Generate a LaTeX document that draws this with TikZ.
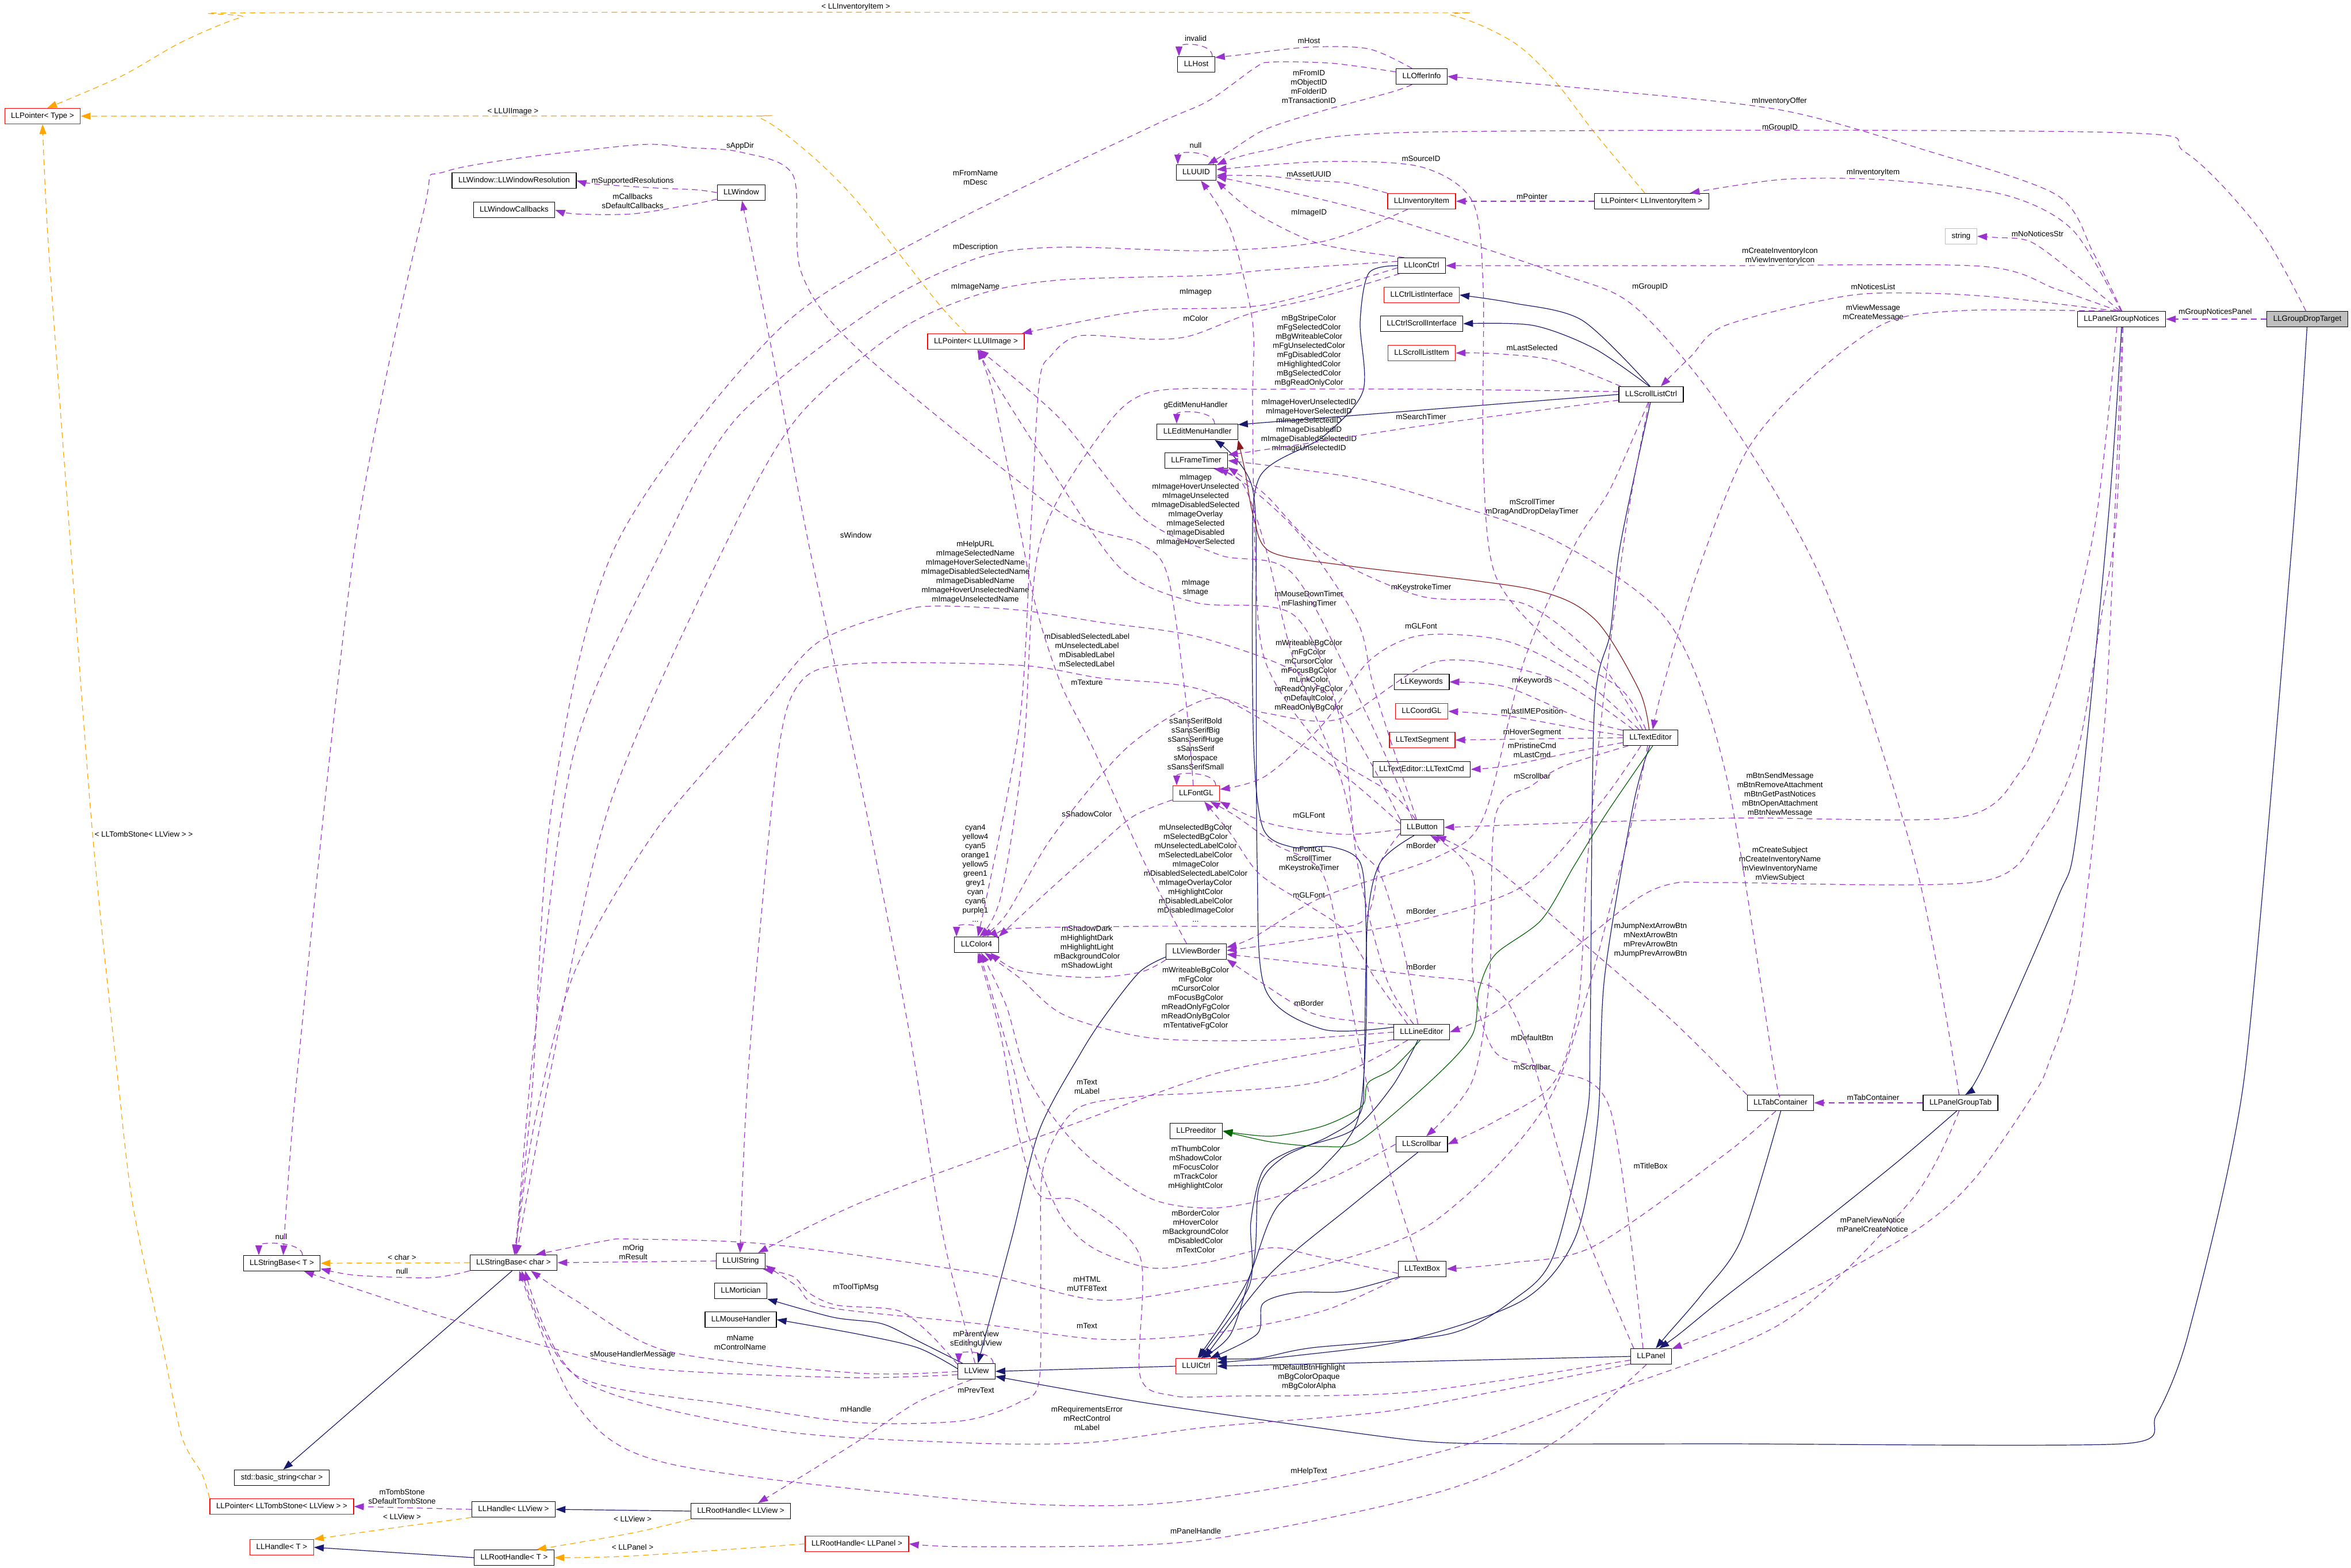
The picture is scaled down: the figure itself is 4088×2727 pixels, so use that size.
\documentclass[tikz,border=0pt]{standalone}
\usepackage{fontspec}
\newfontfamily\dxfont{Liberation Sans}
\usetikzlibrary{arrows.meta}
\definecolor{usecol}{HTML}{9A32CD}
\definecolor{inhcol}{HTML}{191970}
\definecolor{protcol}{HTML}{006400}
\definecolor{privcol}{HTML}{8B1A1A}
\definecolor{tmplcol}{HTML}{FFA500}
\definecolor{boxgrey}{HTML}{BFBFBF}
\tikzset{
  cls/.style = {draw=black, line width=1.2pt, font=\dxfont\fontsize{13.4}{16}\selectfont, inner xsep=11pt, inner ysep=0pt, minimum height=27pt, text height=9.7pt, text depth=2.8pt},
  cls_r/.style = {cls, draw=red},
  cls_g/.style = {cls, fill=boxgrey},
  cls_s/.style = {cls, draw=boxgrey},
  lbl/.style = {font=\dxfont\fontsize{13.4}{16}\selectfont, align=center, inner sep=0pt},
  use_e/.style = {draw=usecol, line width=1.2pt, dash pattern=on 10pt off 7pt, -{Triangle[length=17pt,width=12pt]}},
  tmpl_e/.style = {draw=tmplcol, line width=1.2pt, dash pattern=on 10pt off 7pt, -{Triangle[length=17pt,width=12pt]}},
  inh_e/.style = {draw=inhcol, line width=1.2pt, -{Triangle[length=17pt,width=12pt]}},
  prot_e/.style = {draw=protcol, line width=1.2pt, -{Triangle[length=17pt,width=12pt]}},
  priv_e/.style = {draw=privcol, line width=1.2pt, -{Triangle[length=17pt,width=12pt]}}
}
\begin{document}
\begin{tikzpicture}[x=1pt,y=-1pt]
\fill[white] (0,0) rectangle (4088,2727);
\useasboundingbox (0,0) rectangle (4088,2727);

\node[cls_r] (ptrType) at (74,202) {LLPointer< Type >};
\node[cls] (winRes) at (894,314) {LLWindow::LLWindowResolution};
\node[cls] (winCb) at (894,365) {LLWindowCallbacks};
\node[cls] (window) at (1289,335) {LLWindow};
\node[cls_r] (ptrImg) at (1697,594) {LLPointer< LLUIImage >};
\node[cls] (host) at (2080,112) {LLHost};
\node[cls] (uuid) at (2080,300) {LLUUID};
\node[cls] (offer) at (2472,133) {LLOfferInfo};
\node[cls_r] (invItem) at (2472,350) {LLInventoryItem};
\node[cls] (ptrInv) at (2872,350) {LLPointer< LLInventoryItem >};
\node[cls] (iconCtrl) at (2472,462) {LLIconCtrl};
\node[cls_r] (ctrlList) at (2472,513) {LLCtrlListInterface};
\node[cls] (ctrlScroll) at (2472,563) {LLCtrlScrollInterface};
\node[cls_r] (scrollItem) at (2472,614) {LLScrollListItem};
\node[cls] (scrollList) at (2871,686) {LLScrollListCtrl};
\node[cls] (editMenu) at (2082,751) {LLEditMenuHandler};
\node[cls] (frameTimer) at (2080,801) {LLFrameTimer};
\node[cls_s] (str) at (3410,411) {string};
\node[cls] (notices) at (3689,555) {LLPanelGroupNotices};
\node[cls_g] (dropTarget) at (4012,555) {LLGroupDropTarget};
\node[cls] (color) at (1698,1643) {LLColor4};
\node[cls_r] (fontGL) at (2080,1380) {LLFontGL};
\node[cls] (viewBorder) at (2080,1655) {LLViewBorder};
\node[cls] (keywords) at (2472,1186) {LLKeywords};
\node[cls_r] (coordGL) at (2472,1237) {LLCoordGL};
\node[cls_r] (textSeg) at (2473,1287) {LLTextSegment};
\node[cls] (textCmd) at (2472,1338) {LLTextEditor::LLTextCmd};
\node[cls] (textEditor) at (2870,1283) {LLTextEditor};
\node[cls] (button) at (2473,1439) {LLButton};
\node[cls] (lineEditor) at (2472,1795) {LLLineEditor};
\node[cls] (preeditor) at (2080,1967) {LLPreeditor};
\node[cls] (scrollbar) at (2472,1990) {LLScrollbar};
\node[cls] (textBox) at (2473,2207) {LLTextBox};
\node[cls_r] (uiCtrl) at (2080,2376) {LLUICtrl};
\node[cls] (panel) at (2871,2359) {LLPanel};
\node[cls] (tabCont) at (3096,1918) {LLTabContainer};
\node[cls] (groupTab) at (3409,1918) {LLPanelGroupTab};
\node[cls] (strBaseT) at (490,2197) {LLStringBase< T >};
\node[cls] (strBaseChar) at (893,2196) {LLStringBase< char >};
\node[cls] (basicStr) at (490,2570) {std::basic\_string<char >};
\node[cls_r] (ptrTomb) at (490,2620) {LLPointer< LLTombStone< LLView > >};
\node[cls] (handleView) at (893,2625) {LLHandle< LLView >};
\node[cls_r] (handleT) at (490,2691) {LLHandle< T >};
\node[cls] (rootHandleT) at (894,2709) {LLRootHandle< T >};
\node[cls] (uiString) at (1288,2193) {LLUIString};
\node[cls] (mortician) at (1288,2245) {LLMortician};
\node[cls] (mouseHandler) at (1288,2295) {LLMouseHandler};
\node[cls] (view) at (1698,2385) {LLView};
\node[cls] (rootHandleView) at (1288,2628) {LLRootHandle< LLView >};
\node[cls_r] (rootHandlePanel) at (1490,2685) {LLRootHandle< LLPanel >};

\node[lbl] (lb_invItemT) at (1488,12) {< LLInventoryItem >};
\node[lbl] (lb_uiImageT) at (892,194) {< LLUIImage >};
\node[lbl] (lb_tombT) at (250,1451) {< LLTombStone< LLView > >};
\node[lbl] (lb_resolutions) at (1100,315) {mSupportedResolutions};
\node[lbl] (lb_callbacks) at (1100,350) {mCallbacks\\sDefaultCallbacks};
\node[lbl] (lb_appDir) at (1287,254) {sAppDir};
\node[lbl] (lb_fromName) at (1696,309) {mFromName\\mDesc};
\node[lbl] (lb_description) at (1696,430) {mDescription};
\node[lbl] (lb_imageName) at (1696,499) {mImageName};
\node[lbl] (lb_window) at (1488,931) {sWindow};
\node[lbl] (lb_invalid) at (2079,67) {invalid};
\node[lbl] (lb_host) at (2276,71) {mHost};
\node[lbl] (lb_fromID) at (2276,151) {mFromID\\mObjectID\\mFolderID\\mTransactionID};
\node[lbl] (lb_uuidNull) at (2079,253) {null};
\node[lbl] (lb_sourceID) at (2471,276) {mSourceID};
\node[lbl] (lb_assetUUID) at (2276,303) {mAssetUUID};
\node[lbl] (lb_imageID) at (2276,370) {mImageID};
\node[lbl] (lb_pointer) at (2664,342) {mPointer};
\node[lbl] (lb_tabGroupID) at (2869,499) {mGroupID};
\node[lbl] (lb_iconImagep) at (2079,508) {mImagep};
\node[lbl] (lb_iconColor) at (2079,554) {mColor};
\node[lbl] (lb_listColors) at (2276,610) {mBgStripeColor\\mFgSelectedColor\\mBgWriteableColor\\mFgUnselectedColor\\mFgDisabledColor\\mHighlightedColor\\mBgSelectedColor\\mBgReadOnlyColor};
\node[lbl] (lb_editMenu) at (2079,705) {gEditMenuHandler};
\node[lbl] (lb_btnImageIDs) at (2276,740) {mImageHoverUnselectedID\\mImageHoverSelectedID\\mImageSelectedID\\mImageDisabledID\\mImageDisabledSelectedID\\mImageUnselectedID};
\node[lbl] (lb_searchTimer) at (2471,725) {mSearchTimer};
\node[lbl] (lb_lastSelected) at (2664,605) {mLastSelected};
\node[lbl] (lb_btnImages) at (2079,887) {mImagep\\mImageHoverUnselected\\mImageUnselected\\mImageDisabledSelected\\mImageOverlay\\mImageSelected\\mImageDisabled\\mImageHoverSelected};
\node[lbl] (lb_tabTimers) at (2664,882) {mScrollTimer\\mDragAndDropDelayTimer};
\node[lbl] (lb_invOffer) at (3094,176) {mInventoryOffer};
\node[lbl] (lb_dropGroupID) at (3095,222) {mGroupID};
\node[lbl] (lb_invItem) at (3257,300) {mInventoryItem};
\node[lbl] (lb_noNotices) at (3543,407) {mNoNoticesStr};
\node[lbl] (lb_invIcons) at (3095,445) {mCreateInventoryIcon\\mViewInventoryIcon};
\node[lbl] (lb_noticesList) at (3257,499) {mNoticesList};
\node[lbl] (lb_messages) at (3257,544) {mViewMessage\\mCreateMessage};
\node[lbl] (lb_noticesPanel) at (3852,543) {mGroupNoticesPanel};
\node[lbl] (lb_btnNames) at (1696,995) {mHelpURL\\mImageSelectedName\\mImageHoverSelectedName\\mImageDisabledSelectedName\\mImageDisabledName\\mImageHoverUnselectedName\\mImageUnselectedName};
\node[lbl] (lb_btnLabels) at (1890,1131) {mDisabledSelectedLabel\\mUnselectedLabel\\mDisabledLabel\\mSelectedLabel};
\node[lbl] (lb_texture) at (1890,1187) {mTexture};
\node[lbl] (lb_fonts) at (2079,1294) {sSansSerifBold\\sSansSerifBig\\sSansSerifHuge\\sSansSerif\\sMonospace\\sSansSerifSmall};
\node[lbl] (lb_shadowColor) at (1890,1416) {sShadowColor};
\node[lbl] (lb_colorNames) at (1696,1519) {cyan4\\yellow4\\cyan5\\orange1\\yellow5\\green1\\grey1\\cyan\\cyan6\\purple1\\...};
\node[lbl] (lb_borderColors) at (1890,1648) {mShadowDark\\mHighlightDark\\mHighlightLight\\mBackgroundColor\\mShadowLight};
\node[lbl] (lb_btnColors) at (2079,1519) {mUnselectedBgColor\\mSelectedBgColor\\mUnselectedLabelColor\\mSelectedLabelColor\\mImageColor\\mDisabledSelectedLabelColor\\mImageOverlayColor\\mHighlightColor\\mDisabledLabelColor\\mDisabledImageColor\\...};
\node[lbl] (lb_lineColors) at (2079,1736) {mWriteableBgColor\\mFgColor\\mCursorColor\\mFocusBgColor\\mReadOnlyFgColor\\mReadOnlyBgColor\\mTentativeFgColor};
\node[lbl] (lb_lineImage) at (2079,1022) {mImage\\sImage};
\node[lbl] (lb_btnTimers) at (2276,1042) {mMouseDownTimer\\mFlashingTimer};
\node[lbl] (lb_textKeyTimer) at (2471,1022) {mKeystrokeTimer};
\node[lbl] (lb_textFont) at (2471,1089) {mGLFont};
\node[lbl] (lb_textColors) at (2276,1175) {mWriteableBgColor\\mFgColor\\mCursorColor\\mFocusBgColor\\mLinkColor\\mReadOnlyFgColor\\mDefaultColor\\mReadOnlyBgColor};
\node[lbl] (lb_keywords) at (2664,1184) {mKeywords};
\node[lbl] (lb_imePos) at (2664,1237) {mLastIMEPosition};
\node[lbl] (lb_hoverSeg) at (2664,1274) {mHoverSegment};
\node[lbl] (lb_cmds) at (2664,1305) {mPristineCmd\\mLastCmd};
\node[lbl] (lb_textScrollbar) at (2664,1350) {mScrollbar};
\node[lbl] (lb_btnFont) at (2276,1418) {mGLFont};
\node[lbl] (lb_listBorder) at (2471,1471) {mBorder};
\node[lbl] (lb_boxFont) at (2276,1494) {mFontGL\\mScrollTimer\\mKeystrokeTimer};
\node[lbl] (lb_lineFont) at (2276,1557) {mGLFont};
\node[lbl] (lb_textBorder) at (2471,1585) {mBorder};
\node[lbl] (lb_panelBorder) at (2471,1682) {mBorder};
\node[lbl] (lb_lineBorder) at (2276,1745) {mBorder};
\node[lbl] (lb_defaultBtn) at (2664,1805) {mDefaultBtn};
\node[lbl] (lb_arrowBtns) at (2870,1635) {mJumpNextArrowBtn\\mNextArrowBtn\\mPrevArrowBtn\\mJumpPrevArrowBtn};
\node[lbl] (lb_noticeBtns) at (3095,1382) {mBtnSendMessage\\mBtnRemoveAttachment\\mBtnGetPastNotices\\mBtnOpenAttachment\\mBtnNewMessage};
\node[lbl] (lb_subjects) at (3095,1503) {mCreateSubject\\mCreateInventoryName\\mViewInventoryName\\mViewSubject};
\node[lbl] (lb_lineText) at (1890,1890) {mText\\mLabel};
\node[lbl] (lb_orig) at (1101,2178) {mOrig\\mResult};
\node[lbl] (lb_toolTip) at (1488,2239) {mToolTipMsg};
\node[lbl] (lb_html) at (1890,2233) {mHTML\\mUTF8Text};
\node[lbl] (lb_boxText) at (1890,2306) {mText};
\node[lbl] (lb_viewName) at (1287,2335) {mName\\mControlName};
\node[lbl] (lb_mouseMsg) at (1100,2356) {sMouseHandlerMessage};
\node[lbl] (lb_parentView) at (1697,2329) {mParentView\\sEditingUIView};
\node[lbl] (lb_prevText) at (1697,2418) {mPrevText};
\node[lbl] (lb_handle) at (1488,2451) {mHandle};
\node[lbl] (lb_panelStrings) at (1890,2467) {mRequirementsError\\mRectControl\\mLabel};
\node[lbl] (lb_rootViewT) at (1100,2642) {< LLView >};
\node[lbl] (lb_rootPanelT) at (1100,2691) {< LLPanel >};
\node[lbl] (lb_panelHandle) at (2079,2663) {mPanelHandle};
\node[lbl] (lb_strNull) at (489,2151) {null};
\node[lbl] (lb_charT) at (699,2187) {< char >};
\node[lbl] (lb_charNull) at (699,2211) {null};
\node[lbl] (lb_tombStone) at (699,2603) {mTombStone\\sDefaultTombStone};
\node[lbl] (lb_handleViewT) at (699,2638) {< LLView >};
\node[lbl] (lb_barColors) at (2079,2031) {mThumbColor\\mShadowColor\\mFocusColor\\mTrackColor\\mHighlightColor};
\node[lbl] (lb_boxColors) at (2079,2142) {mBorderColor\\mHoverColor\\mBackgroundColor\\mDisabledColor\\mTextColor};
\node[lbl] (lb_listScrollbar) at (2664,1856) {mScrollbar};
\node[lbl] (lb_titleBox) at (2870,2028) {mTitleBox};
\node[lbl] (lb_panelColors) at (2276,2395) {mDefaultBtnHighlight\\mBgColorOpaque\\mBgColorAlpha};
\node[lbl] (lb_helpText) at (2276,2559) {mHelpText};
\node[lbl] (lb_tabContainer) at (3257,1909) {mTabContainer};
\node[lbl] (lb_noticePanels) at (3256,2130) {mPanelViewNotice\\mPanelCreateNotice};

\draw[tmpl_e] plot[smooth] coordinates {(ptrInv.130) (2772,230) (2702,139) (2631,73) (2526,27) (2400,22) (500,22) (420,30) (316,73) (210,133) (ptrType.60)};
\draw[tmpl_e] plot[smooth] coordinates {(ptrImg.140) (1631,527) (1491,351) (1407,267) (1323,206) (1250,202) (ptrType.east)};
\draw[tmpl_e] plot[smooth] coordinates {(ptrTomb.north west) (351,2563) (316,2498) (281,2332) (231,2096) (203,1859) (161,1451) (119,900) (84,424) (ptrType.south)};
\draw[tmpl_e] plot[smooth] coordinates {(handleView.south west) (700,2655) (handleT.north east)};
\draw[tmpl_e] plot[smooth] coordinates {(rootHandleView.south west) (1100,2666) (rootHandleT.20)};
\draw[tmpl_e] plot[smooth] coordinates {(rootHandlePanel.west) (1100,2706) (rootHandleT.east)};
\draw[tmpl_e] (strBaseChar.west) -- (strBaseT.east);

\draw[inh_e] (strBaseChar.-100) -- (basicStr.80);
\draw[inh_e] (rootHandleView.west) -- (handleView.east);
\draw[inh_e] (rootHandleT.west) -- (handleT.east);
\draw[inh_e] (uiCtrl.west) -- (view.east);
\draw[inh_e] plot[smooth] coordinates {(view.150) (1596,2332) (1533,2302) (1449,2291) (mortician.south east)};
\draw[inh_e] plot[smooth] coordinates {(view.172) (1596,2344) (1491,2320) (mouseHandler.east)};
\draw[inh_e] plot[smooth] coordinates {(viewBorder.-170) (1982,1690) (1926,1760) (1880,1830) (1807,1966) (1760,2150) (view.80)};
\draw[inh_e] plot[smooth, tension=0.4] coordinates {(dropTarget.-92) (3985,950) (3902,1877) (3805,2320) (3749,2462) (3690,2511) (3000,2511) (2631,2511) (2449,2504) (2000,2441) (view.-15)};
\draw[inh_e] (panel.west) -- (uiCtrl.east);
\draw[inh_e] plot[smooth] coordinates {(iconCtrl.west) (2380,475) (2365,560) (2370,680) (2300,760) (2190,830) (2178,1000) (2180,1300) (2196,1440) (2246,1473) (2316,1473) (2365,1500) (2375,1600) (2375,1800) (2360,1950) (2300,2030) (2220,2100) (2180,2200) (2140,2320) (uiCtrl.60)};
\draw[inh_e] plot[smooth] coordinates {(scrollList.-95) (2817,950) (2800,1100) (2772,1239) (2765,1800) (2758,1948) (2701,2184) (2631,2261) (2519,2320) (2281,2344) (2189,2362) (uiCtrl.20)};
\draw[inh_e] plot[smooth] coordinates {(textEditor.-95) (2840,1400) (2790,1700) (2778,1950) (2740,2150) (2650,2260) (2450,2330) (2250,2358) (uiCtrl.10)};
\draw[inh_e] plot[smooth] coordinates {(button.-135) (2400,1500) (2378,1600) (2372,1850) (2365,1936) (2309,1977) (2231,2013) (2189,2066) (2175,2214) (uiCtrl.80)};
\draw[inh_e] plot[smooth] coordinates {(lineEditor.-115) (2421,1889) (2351,1966) (2246,2001) (2196,2036) (2175,2125) (2172,2237) (uiCtrl.70)};
\draw[inh_e] plot[smooth] coordinates {(scrollbar.-115) (2351,2096) (2210,2214) (uiCtrl.45)};
\draw[inh_e] plot[smooth] coordinates {(textBox.south west) (2337,2246) (2253,2248) (2196,2267) (2186,2320) (uiCtrl.30)};
\draw[inh_e] (scrollList.west) -- (editMenu.10);
\draw[inh_e] plot[smooth] coordinates {(scrollList.97) (2751,557) (2631,527) (ctrlList.east)};
\draw[inh_e] plot[smooth] coordinates {(scrollList.102) (2772,606) (2666,566) (ctrlScroll.east)};
\draw[inh_e] plot[smooth] coordinates {(lineEditor.170) (2300,1790) (2200,1720) (2186,1500) (2184,1100) (2178,850) (editMenu.-25)};
\draw[inh_e] plot[smooth] coordinates {(notices.-90) (3666,900) (3611,1445) (3576,1566) (3451,1850) (groupTab.60)};
\draw[inh_e] plot[smooth] coordinates {(groupTab.-115) (3300,2020) (3150,2140) (3000,2255) (2920,2320) (panel.45)};
\draw[inh_e] plot[smooth] coordinates {(tabCont.-88) (3028,2155) (2960,2250) (2900,2320) (panel.60)};

\draw[prot_e] plot[smooth] coordinates {(textEditor.-75) (2793,1415) (2737,1506) (2680,1600) (2600,1660) (2572,1720) (2560,1800) (2491,1877) (2365,1983) (2302,1994) (2210,1986) (preeditor.east)};
\draw[prot_e] plot[smooth] coordinates {(lineEditor.-100) (2421,1859) (2379,1883) (2372,1918) (2351,1936) (2295,1960) (2210,1976) (preeditor.east)};
\draw[priv_e] plot[smooth] coordinates {(textEditor.100) (2850,1200) (2772,1076) (2659,1024) (2351,985) (2210,960) (2180,900) (2165,820) (editMenu.south east)};

\draw[use_e] (dropTarget.west) -- (notices.east);
\draw[use_e] plot[smooth] coordinates {(dropTarget.100) (3930,400) (3800,265) (3660,230) (2460,230) (2200,262) (uuid.20)};
\draw[use_e] plot[smooth] coordinates {(notices.88) (3640,440) (3576,339) (3347,261) (3100,192) (2800,158) (offer.east)};
\draw[use_e] plot[smooth] coordinates {(notices.93) (3604,400) (3486,339) (3278,313) (3100,312) (ptrInv.12)};
\draw[use_e] plot[smooth] coordinates {(notices.100) (3600,470) (3530,420) (3470,413) (str.east)};
\draw[use_e] plot[smooth] coordinates {(notices.110) (3576,503) (3444,463) (3000,462) (iconCtrl.east)};
\draw[use_e] plot[smooth] coordinates {(notices.125) (3486,518) (3347,510) (3208,515) (3000,566) (2940,620) (scrollList.40)};
\draw[use_e] plot[smooth] coordinates {(notices.155) (3416,540) (3278,562) (3139,666) (3035,788) (2950,1000) (2890,1200) (textEditor.75)};
\draw[use_e] plot[smooth] coordinates {(notices.-120) (3645,900) (3590,1142) (3555,1251) (3513,1342) (3409,1421) (3000,1423) (button.east)};
\draw[use_e] plot[smooth] coordinates {(notices.-80) (3680,900) (3652,1082) (3611,1312) (3548,1445) (3444,1533) (3000,1535) (2912,1536) (2842,1566) (2700,1680) (2600,1760) (lineEditor.east)};
\draw[use_e] plot[smooth] coordinates {(notices.-85) (3677,900) (3659,1263) (3611,1688) (3562,1850) (3534,1906) (3430,2054) (3326,2143) (3100,2267) (panel.20)};
\draw[use_e] (groupTab.west) -- (tabCont.east);
\draw[use_e] plot[smooth] coordinates {(groupTab.100) (3330,1500) (3173,1021) (3000,720) (2842,533) (2702,473) (2365,364) (uuid.-12)};
\draw[use_e] plot[smooth] coordinates {(groupTab.-100) (3326,2084) (3100,2300) (2772,2430) (2561,2509) (2281,2577) (2000,2616) (1701,2610) (1161,2545) (1000,2440) (strBaseChar.-55)};
\draw[use_e] plot[smooth] coordinates {(tabCont.north west) (2912,1779) (2772,1657) (2600,1510) (button.-30)};
\draw[use_e] plot[smooth] coordinates {(tabCont.-120) (3000,2007) (2772,2167) (2631,2196) (textBox.east)};
\draw[use_e] plot[smooth] coordinates {(tabCont.95) (3083,1850) (3000,1342) (2900,1080) (2702,939) (2500,870) (2351,830) (frameTimer.east)};
\draw[use_e] plot[smooth] coordinates {(panel.135) (2800,1930) (2700,1862) (2600,1830) (2561,1700) (2561,1520) (button.-45)};
\draw[use_e] plot[smooth] coordinates {(panel.155) (2740,2100) (2660,1830) (2600,1720) (2471,1697) (2300,1678) (viewBorder.-5)};
\draw[use_e] plot[smooth] coordinates {(panel.-170) (2456,2421) (2140,2428) (2038,2427) (1982,2391) (1982,2184) (1877,2090) (1807,2078) (1772,1977) (1740,1800) (color.-80)};
\draw[use_e] plot[smooth] coordinates {(panel.-160) (2600,2420) (2400,2456) (2100,2482) (1890,2509) (1670,2509) (1337,2486) (1010,2400) (strBaseChar.-35)};
\draw[use_e] plot[smooth] coordinates {(panel.-120) (2701,2509) (2491,2598) (2079,2680) (1700,2690) (rootHandlePanel.east)};
\draw[use_e] (ptrInv.west) -- (invItem.east);
\draw[use_e] plot[smooth] coordinates {(offer.140) (2380,85) (2276,82) (2160,95) (host.20)};
\draw[use_e] plot[smooth] coordinates {(offer.-140) (2420,160) (2295,194) (2200,225) (2140,262) (uuid.35)};
\draw[use_e] plot[smooth] coordinates {(offer.170) (2316,110) (2210,108) (2182,118) (2100,176) (2000,221) (1631,400) (1351,576) (1070,950) (960,1400) (925,1900) (strBaseChar.85)};
\draw[use_e] plot[smooth] coordinates {(invItem.north west) (2340,318) (2276,314) (2200,306) (uuid.-8)};
\draw[use_e] plot[smooth] coordinates {(invItem.-150) (2300,420) (2100,436) (1842,430) (1702,448) (1526,533) (1281,727) (1154,950) (1000,1300) (930,1800) (strBaseChar.75)};
\draw[use_e] plot[smooth] coordinates {(iconCtrl.170) (2200,470) (2100,479) (1842,487) (1702,512) (1561,576) (1386,727) (1260,950) (1060,1400) (960,1850) (strBaseChar.70)};
\draw[use_e] plot[smooth] coordinates {(iconCtrl.155) (2295,424) (2182,370) (uuid.south east)};
\draw[use_e] plot[smooth] coordinates {(iconCtrl.-175) (2200,530) (2000,539) (1850,565) (ptrImg.10)};
\draw[use_e] plot[smooth] coordinates {(iconCtrl.-160) (2302,515) (2175,545) (2070,584) (2000,590) (1877,584) (1828,618) (1807,666) (1793,909) (1772,1264) (color.80)};
\draw[use_e] plot[smooth] coordinates {(window.west) (1210,330) (1140,327) (1035,320) (winRes.east)};
\draw[use_e] plot[smooth] coordinates {(window.-165) (1200,356) (1100,372) (1000,372) (winCb.east)};
\draw[use_e] plot[smooth] coordinates {(view.100) (1640,2150) (1582,1800) (1500,1380) (1407,950) (1350,650) (window.-85)};
\draw[use_e] plot[smooth] coordinates {(fontGL.110) (2060,1200) (2030,1000) (1982,945) (1842,890) (1491,606) (1393,473) (1379,305) (1290,265) (1200,257) (1094,253) (779,297) (736,370) (617,950) (519,1845) (strBaseT.80)};
\draw[use_e] plot[smooth] coordinates {(fontGL.-165) (1970,1420) (1900,1480) (1800,1570) (color.north east)};
\draw[use_e] plot[smooth] coordinates {(textEditor.145) (2750,1180) (2620,1115) (2471,1105) (2380,1150) (2300,1260) (2200,1350) (fontGL.10)};
\draw[use_e] plot[smooth] coordinates {(button.-175) (2337,1451) (2210,1433) (fontGL.south east)};
\draw[use_e] plot[smooth] coordinates {(lineEditor.150) (2390,1700) (2340,1620) (2276,1575) (2190,1520) (2140,1450) (fontGL.-45)};
\draw[use_e] plot[smooth] coordinates {(textBox.120) (2420,2050) (2380,1900) (2340,1700) (2300,1520) (2220,1470) (2150,1420) (fontGL.-30)};
\draw[use_e] plot[smooth] coordinates {(lineEditor.115) (2440,1650) (2400,1520) (2360,1470) (2330,1350) (2250,1150) (2200,950) (2160,840) (frameTimer.-25)};
\draw[use_e] plot[smooth] coordinates {(scrollList.-170) (2491,738) (2281,770) (frameTimer.10)};
\draw[use_e] plot[smooth] coordinates {(button.125) (2390,1200) (2360,1080) (2260,930) (2170,845) (frameTimer.-20)};
\draw[use_e] plot[smooth] coordinates {(textEditor.135) (2780,1150) (2650,1050) (2471,1037) (2300,960) (2200,860) (frameTimer.-12)};
\draw[use_e] plot[smooth] coordinates {(textEditor.120) (2820,1200) (2700,1120) (2600,1000) (2579,800) (2579,500) (2560,350) (2470,290) (2300,281) (uuid.8)};
\draw[use_e] plot[smooth] coordinates {(button.130) (2420,1380) (2300,1300) (2200,1150) (2182,950) (2178,700) (2178,560) (2140,400) (uuid.-60)};
\draw[use_e] plot[smooth] coordinates {(button.140) (2380,1250) (2250,1000) (2120,965) (1982,897) (1842,727) (ptrImg.-70)};
\draw[use_e] plot[smooth] coordinates {(button.160) (2300,1200) (2100,1112) (1912,1082) (1772,1061) (1631,1054) (1561,1064) (1421,1118) (1316,1239) (1140,1445) (1000,1688) (930,1950) (strBaseChar.80)};
\draw[use_e] plot[smooth] coordinates {(button.170) (2300,1320) (2100,1203) (1912,1179) (1772,1157) (1491,1154) (1393,1185) (1351,1324) (1302,1850) (uiString.95)};
\draw[use_e] plot[smooth] coordinates {(button.-165) (2400,1500) (2365,1605) (2200,1611) (2000,1611) (1760,1615) (color.15)};
\draw[use_e] plot[smooth] coordinates {(textEditor.155) (2700,1180) (2500,1150) (2330,1250) (2200,1240) (2100,1215) (1960,1300) (1830,1455) (1750,1590) (color.55)};
\draw[use_e] plot[smooth] coordinates {(lineEditor.west) (2210,1809) (2000,1805) (1850,1765) (1772,1700) (color.-45)};
\draw[use_e] plot[smooth] coordinates {(viewBorder.-165) (1982,1691) (1890,1700) (1772,1688) (color.-30)};
\draw[use_e] plot[smooth] coordinates {(scrollbar.west) (2316,2048) (2210,2084) (2105,2101) (2000,2084) (1880,2000) (1790,1880) (1750,1750) (color.-60)};
\draw[use_e] plot[smooth] coordinates {(textBox.-170) (2290,2185) (2210,2170) (2100,2195) (2000,2205) (1900,2170) (1842,2110) (1790,1980) (1760,1850) (color.-70)};
\draw[use_e] plot[smooth] coordinates {(scrollList.175) (2491,677) (2210,677) (2000,682) (1912,757) (1807,950) (1780,1300) (1740,1560) (color.70)};
\draw[use_e] plot[smooth] coordinates {(textEditor.165) (2750,1250) (2620,1195) (keywords.east)};
\draw[use_e] plot[smooth] coordinates {(textEditor.175) (2750,1268) (2620,1245) (coordGL.east)};
\draw[use_e] (textEditor.west) -- (textSeg.east);
\draw[use_e] plot[smooth] coordinates {(textEditor.-170) (2750,1305) (2620,1332) (textCmd.east)};
\draw[use_e] plot[smooth] coordinates {(textEditor.-160) (2720,1332) (2664,1366) (2600,1420) (2590,1700) (2560,1880) (scrollbar.60)};
\draw[use_e] plot[smooth] coordinates {(scrollList.-105) (2830,900) (2790,1200) (2760,1500) (2744,1750) (2700,1885) (2600,1950) (scrollbar.east)};
\draw[use_e] plot[smooth] coordinates {(scrollList.165) (2702,627) (2600,615) (scrollItem.east)};
\draw[use_e] plot[smooth] coordinates {(scrollList.-110) (2800,850) (2737,950) (2650,1150) (2580,1420) (2500,1490) (2300,1560) (2180,1630) (viewBorder.8)};
\draw[use_e] plot[smooth] coordinates {(textEditor.-140) (2780,1400) (2650,1540) (2471,1600) (2300,1630) (viewBorder.2)};
\draw[use_e] plot[smooth] coordinates {(lineEditor.165) (2350,1775) (2276,1760) (2180,1700) (viewBorder.-14)};
\draw[use_e] plot[smooth] coordinates {(viewBorder.140) (1990,1500) (1900,1300) (1845,1190) (1800,1050) (1760,850) (1725,680) (ptrImg.-75)};
\draw[use_e] plot[smooth] coordinates {(lineEditor.135) (2410,1700) (2360,1500) (2330,1250) (2250,1070) (2079,1048) (1950,990) (1830,820) (1740,680) (ptrImg.-80)};
\draw[use_e] plot[smooth] coordinates {(lineEditor.-165) (2300,1830) (2100,1871) (1807,1977) (1500,2090) (uiString.25)};
\draw[use_e] plot[smooth] coordinates {(lineEditor.-150) (2300,1880) (2100,1900) (1980,1907) (1870,1930) (1814,2031) (1810,2200) (1807,2400) (1772,2439) (1673,2471) (1491,2474) (1281,2444) (1000,2391) (strBaseChar.-45)};
\draw[use_e] plot[smooth] coordinates {(textEditor.-110) (2820,1500) (2700,1900) (2500,2120) (2300,2200) (2100,2237) (1912,2261) (1701,2214) (1337,2164) (1100,2155) (1052,2158) (strBaseChar.20)};
\draw[use_e] plot[smooth] coordinates {(textBox.-160) (2300,2280) (2100,2320) (1912,2329) (1701,2302) (1435,2273) (1386,2237) (uiString.-10)};
\draw[use_e] (uiString.west) -- (strBaseChar.east);
\draw[use_e] plot[smooth] coordinates {(view.160) (1617,2320) (1561,2279) (1456,2270) (1407,2249) (1379,2220) (uiString.-20)};
\draw[use_e] plot[smooth] coordinates {(view.west) (1491,2388) (1161,2350) (1000,2261) (strBaseChar.-25)};
\draw[use_e] plot[smooth] coordinates {(view.-170) (1491,2396) (1210,2386) (1052,2368) (772,2291) (strBaseT.-20)};
\draw[use_e] plot[smooth] coordinates {(view.-120) (1596,2438) (1505,2498) (1421,2551) (rootHandleView.25)};
\draw[use_e] (handleView.west) -- (ptrTomb.east);
\draw[use_e] plot[smooth] coordinates {(strBaseChar.south west) (750,2222) (620,2218) (strBaseT.-8)};

\draw[use_e] ([xshift=28pt]host.north) .. controls +(0,-24) and +(0,-24) .. ([xshift=-30pt]host.north);
\draw[use_e] ([xshift=30pt]uuid.north) .. controls +(0,-24) and +(0,-24) .. ([xshift=-32pt]uuid.north);
\draw[use_e] ([xshift=30pt]editMenu.north) .. controls +(0,-24) and +(0,-24) .. ([xshift=-36pt]editMenu.north);
\draw[use_e] ([xshift=34pt]fontGL.north) .. controls +(0,-24) and +(0,-24) .. ([xshift=-34pt]fontGL.north);
\draw[use_e] ([xshift=20pt]color.north) .. controls +(0,-24) and +(0,-24) .. ([xshift=4pt]color.north west);
\draw[use_e] ([xshift=36pt]strBaseT.north) .. controls +(0,-24) and +(0,-24) .. ([xshift=-40pt]strBaseT.north);
\draw[use_e] ([xshift=-4pt]view.north east) .. controls +(0,-22) and +(0,-22) .. ([xshift=2pt]view.north west);
\end{tikzpicture}
\end{document}
